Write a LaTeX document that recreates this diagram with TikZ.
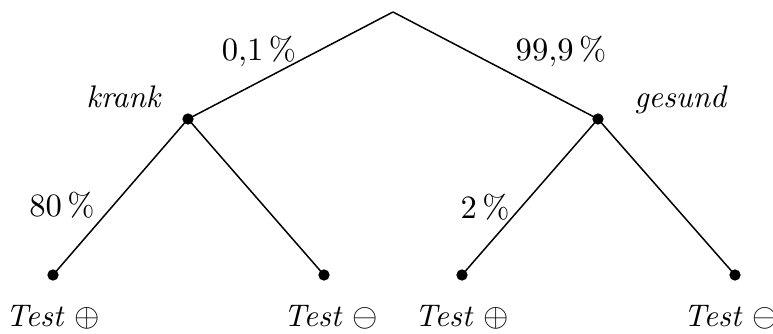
\documentclass[tikz,border=0pt]{standalone}
\begin{document}
\begin{tikzpicture}[x=0.336pt,y=-0.336pt,
  dot/.style={circle,fill=black,inner sep=0pt,minimum size=3.8pt},
  branch/.style={line width=0.5pt},
  lbl/.style={inner sep=0pt,font=\fontsize{10.5}{12}\selectfont}]
\useasboundingbox (0,0) rectangle (773,334);
\coordinate (r) at (393,12);
\node[dot] (k) at (188,119) {};
\node[dot] (g) at (598,119) {};
\node[dot] (l1) at (53,275) {};
\node[dot] (l2) at (324,275) {};
\node[dot] (l3) at (462,275) {};
\node[dot] (l4) at (735,275) {};
\draw[branch] (r) -- (k.center);
\draw[branch] (r) -- (g.center);
\draw[branch] (k.center) -- (l1.center);
\draw[branch] (k.center) -- (l2.center);
\draw[branch] (g.center) -- (l3.center);
\draw[branch] (g.center) -- (l4.center);
\node[lbl] (p1) at (259,51) {$0{,}1\,\%$};
\node[lbl] (p2) at (561,51) {$99{,}9\,\%$};
\node[lbl,anchor=base] (nk) at (124,108) {\textit{krank}};
\node[lbl,anchor=base] (ng) at (681,108) {\textit{gesund}};
\node[lbl] (p3) at (62,205) {$80\,\%$};
\node[lbl] (p4) at (485,207) {$2\,\%$};
\node[lbl,anchor=base] (t1) at (53,327) {\textit{Test} $\oplus$};
\node[lbl,anchor=base] (t2) at (331,327) {\textit{Test} $\ominus$};
\node[lbl,anchor=base] (t3) at (462,327) {\textit{Test} $\oplus$};
\node[lbl,anchor=base] (t4) at (731,327) {\textit{Test} $\ominus$};
\end{tikzpicture}
\end{document}
